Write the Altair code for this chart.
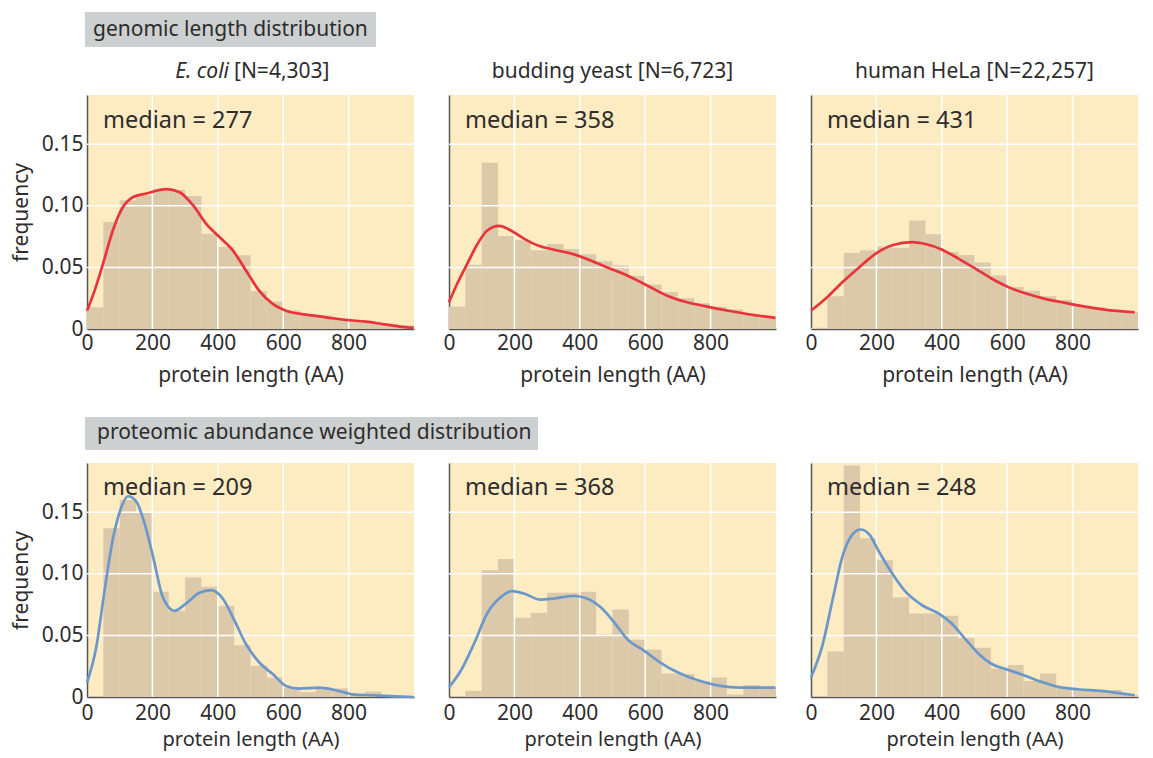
import altair as alt
import pandas as pd

# ---------------- data ----------------
bin_starts = list(range(0, 1000, 50))
bin_width = 50

x_tick_values = [200, 400, 600, 800]
y_tick_values = [0.05, 0.10, 0.15]

column_titles = ["E. coli [N=4,303]", "budding yeast [N=6,723]", "human HeLa [N=22,257]"]
row_titles = ["genomic length distribution", "proteomic abundance weighted distribution"]
medians = [277, 358, 431, 209, 368, 248]

bars_ecoli_gen = [0.0177, 0.087, 0.1046, 0.1087, 0.1136, 0.113, 0.108, 0.0774, 0.0666, 0.0598,
                  0.0307, 0.0223, 0.015, 0.012, 0.011, 0.009, 0.007, 0.006, 0.004, 0.003]
bars_yeast_gen = [0.0182, 0.0522, 0.135, 0.0755, 0.072, 0.064, 0.069, 0.065, 0.0606, 0.055,
                  0.0516, 0.043, 0.036, 0.030, 0.025, 0.021, 0.018, 0.016, 0.012, 0.010]
bars_hela_gen = [0.001, 0.0266, 0.062, 0.064, 0.067, 0.066, 0.088, 0.077, 0.0625, 0.060,
                 0.054, 0.0435, 0.034, 0.031, 0.0266, 0.0236, 0.019, 0.0177, 0.0155, 0.0136]
bars_ecoli_prot = [0.0, 0.137, 0.160, 0.150, 0.0855, 0.070, 0.097, 0.0895, 0.074, 0.042,
                   0.0254, 0.0158, 0.0076, 0.004, 0.0076, 0.007, 0.0016, 0.0044, 0.001, 0.0005]
bars_yeast_prot = [0.0, 0.005, 0.103, 0.112, 0.0644, 0.0685, 0.0846, 0.0846, 0.0855, 0.0508,
                   0.071, 0.0464, 0.0385, 0.019, 0.0186, 0.013, 0.0158, 0.002, 0.0096, 0.008]
bars_hela_prot = [0.0, 0.037, 0.188, 0.129, 0.111, 0.081, 0.0677, 0.0677, 0.066, 0.048,
                  0.040, 0.023, 0.026, 0.013, 0.019, 0.0076, 0.006, 0.005, 0.0057, 0.0016]

kde_x_ecoli_gen = [0, 23, 49, 79, 110, 140, 181, 242, 283, 324, 364, 405, 446, 486, 527, 568,
                   609, 670, 731, 792, 853, 904, 955, 999]
kde_y_ecoli_gen = [0.0149, 0.031, 0.053, 0.080, 0.099, 0.107, 0.110, 0.1136, 0.111, 0.1005,
                   0.0856, 0.0747, 0.0638, 0.0475, 0.031, 0.0204, 0.0149, 0.0117, 0.0095,
                   0.0073, 0.006, 0.004, 0.002, 0.001]
kde_x_yeast_gen = [0, 25, 56, 87, 117, 153, 189, 229, 270, 321, 382, 433, 484, 545, 606, 667,
                   728, 789, 850, 911, 998]
kde_y_yeast_gen = [0.0217, 0.0367, 0.053, 0.069, 0.080, 0.0837, 0.080, 0.0734, 0.068, 0.0644,
                   0.0606, 0.0557, 0.050, 0.0435, 0.0353, 0.027, 0.0217, 0.0182, 0.015, 0.0122,
                   0.009]
kde_x_hela_gen = [0, 46, 96, 147, 197, 248, 310, 350, 401, 452, 503, 553, 604, 655, 716, 777,
                  838, 898, 990]
kde_y_hela_gen = [0.015, 0.025, 0.038, 0.050, 0.061, 0.068, 0.0706, 0.069, 0.0644, 0.057,
                  0.049, 0.0408, 0.034, 0.029, 0.0245, 0.0212, 0.0182, 0.0158, 0.0136]
kde_x_ecoli_prot = [0, 28, 54, 79, 105, 125, 150, 176, 202, 232, 268, 303, 344, 380, 415, 451,
                    486, 527, 568, 609, 649, 710, 761, 812, 873, 944, 999]
kde_y_ecoli_prot = [0.0117, 0.040, 0.087, 0.128, 0.154, 0.163, 0.159, 0.141, 0.114, 0.081,
                    0.070, 0.076, 0.0846, 0.0868, 0.080, 0.062, 0.043, 0.028, 0.0186, 0.009,
                    0.0068, 0.0076, 0.0055, 0.0022, 0.0014, 0.0005, 0.0]
kde_x_yeast_prot = [0, 36, 76, 117, 158, 193, 229, 280, 321, 382, 422, 463, 504, 545, 596, 646,
                    707, 768, 829, 890, 998]
kde_y_yeast_prot = [0.008, 0.0213, 0.043, 0.068, 0.081, 0.086, 0.084, 0.079, 0.080, 0.082,
                    0.080, 0.073, 0.061, 0.047, 0.0377, 0.028, 0.019, 0.013, 0.009, 0.0076,
                    0.0076]
kde_x_hela_prot = [0, 36, 66, 96, 127, 152, 178, 208, 249, 289, 340, 391, 431, 472, 513, 553,
                   604, 655, 705, 756, 817, 888, 990]
kde_y_hela_prot = [0.0158, 0.043, 0.079, 0.114, 0.132, 0.136, 0.132, 0.118, 0.100, 0.0855,
                   0.0745, 0.0677, 0.0595, 0.047, 0.035, 0.0268, 0.022, 0.0172, 0.0123, 0.0082,
                   0.0063, 0.005, 0.0014]

panels_bars = [bars_ecoli_gen, bars_yeast_gen, bars_hela_gen,
               bars_ecoli_prot, bars_yeast_prot, bars_hela_prot]
panels_kde = [(kde_x_ecoli_gen, kde_y_ecoli_gen), (kde_x_yeast_gen, kde_y_yeast_gen),
              (kde_x_hela_gen, kde_y_hela_gen), (kde_x_ecoli_prot, kde_y_ecoli_prot),
              (kde_x_yeast_prot, kde_y_yeast_prot), (kde_x_hela_prot, kde_y_hela_prot)]

# ---------------- style ----------------
FONT = "Noto Sans"
TXT = "#2e2c2c"
BG = "#FDEBC2"
BAR = "#DBC9AA"
RED = "#E8343A"
BLUE = "#6A98CB"
BOX = "#CDD0D0"
W, H = 327, 234

xs = alt.Scale(domain=[0, 1000], nice=False, zero=False)
ys = alt.Scale(domain=[0, 0.19], nice=False)

one = alt.Data(values=[{}])


def make_panel(i):
    row, col = divmod(i, 3)
    bdf = pd.DataFrame({"start": bin_starts,
                        "end": [b + bin_width for b in bin_starts],
                        "freq": panels_bars[i]})
    kx, ky = panels_kde[i]
    kdf = pd.DataFrame({"x": kx, "y": ky})

    xaxis = alt.Axis(values=[0] + x_tick_values, labelFlush=False, ticks=False, grid=False,
                     title="protein length (AA)",
                     labelPadding=3 if row == 0 else 5,
                     titlePadding=11 if row == 0 else 6,
                     titleFontSize=21 if row == 0 else 20)
    if col == 0:
        yaxis = alt.Axis(values=[0] + y_tick_values, labelFlush=False, ticks=False, grid=False,
                         labelExpr="datum.value == 0 ? '0' : format(datum.value, '.2f')",
                         title="frequency", labelPadding=4, titlePadding=10)
    else:
        yaxis = alt.Axis(labels=False, ticks=False, grid=False, title=None)

    bars = alt.Chart(bdf).mark_rect(color=BAR).encode(
        x=alt.X("start:Q", scale=xs, axis=xaxis),
        x2="end:Q",
        y=alt.Y("freq:Q", scale=ys, axis=yaxis),
        y2=alt.datum(0),
    )
    vgrid = alt.Chart(pd.DataFrame({"v": x_tick_values})).mark_rule(
        color="white", strokeWidth=1.5).encode(x=alt.X("v:Q", scale=xs, axis=xaxis))
    hgrid = alt.Chart(pd.DataFrame({"v": y_tick_values})).mark_rule(
        color="white", strokeWidth=1.5).encode(y=alt.Y("v:Q", scale=ys, axis=yaxis))
    curve = alt.Chart(kdf).mark_line(
        color=RED if row == 0 else BLUE, strokeWidth=2.7, interpolate="monotone"
    ).encode(x=alt.X("x:Q", scale=xs, axis=xaxis), y=alt.Y("y:Q", scale=ys, axis=yaxis))
    med = alt.Chart(one).mark_text(
        align="left", baseline="middle", font=FONT, fontSize=23.5, color=TXT,
        text=f"median = {medians[i]}"
    ).encode(x=alt.value(16), y=alt.value(26 if row == 0 else 25))

    layers = [bars, vgrid, hgrid, curve, med]

    if row == 0:
        if col == 0:
            it, rest = column_titles[0].split(" [")
            layers.append(alt.Chart(one).mark_text(
                align="right", baseline="middle", font=FONT, fontSize=21, fontStyle="italic",
                color=TXT, text=it).encode(x=alt.value(142), y=alt.value(-23)))
            layers.append(alt.Chart(one).mark_text(
                align="left", baseline="middle", font=FONT, fontSize=21,
                color=TXT, text="[" + rest).encode(x=alt.value(147), y=alt.value(-23)))
        else:
            layers.append(alt.Chart(one).mark_text(
                align="center", baseline="middle", font=FONT, fontSize=21,
                color=TXT, text=column_titles[col]).encode(x=alt.value(W / 2), y=alt.value(-23)))

    if col == 0:
        if row == 0:
            bx2, by1, by2, ty, tx = 289, -83, -48, -65, 6
        else:
            bx2, by1, by2, ty, tx = 451, -46, -13, -30, 10
        layers.append(alt.Chart(one).mark_rect(color=BOX).encode(
            x=alt.value(-2), x2=alt.value(bx2), y=alt.value(by1), y2=alt.value(by2)))
        layers.append(alt.Chart(one).mark_text(
            align="left", baseline="middle", font=FONT, fontSize=21, color=TXT,
            text=row_titles[row]).encode(x=alt.value(tx), y=alt.value(ty)))
        if row == 0:
            # white anchor fixing the top-left corner of the page
            layers.append(alt.Chart(one).mark_rect(color="white").encode(
                x=alt.value(-87), x2=alt.value(-86), y=alt.value(-95), y2=alt.value(-94)))

    return alt.layer(*layers).properties(width=W, height=H)


chart = alt.concat(
    *[make_panel(i) for i in range(6)],
    columns=3,
    spacing={"row": 134, "column": 35},
    bounds="flush",
).properties(
    padding={"left": 0, "top": 0, "right": 8, "bottom": 8},
    background="white",
).configure_view(
    fill=BG, stroke=None
).configure_axis(
    domainColor="#555555", domainWidth=1.5,
    labelFont=FONT, labelFontSize=21, labelColor=TXT,
    titleFont=FONT, titleFontSize=21, titleFontWeight="normal", titleColor=TXT,
)

chart.save("out.html", embed_options={"renderer": "svg", "actions": False})
